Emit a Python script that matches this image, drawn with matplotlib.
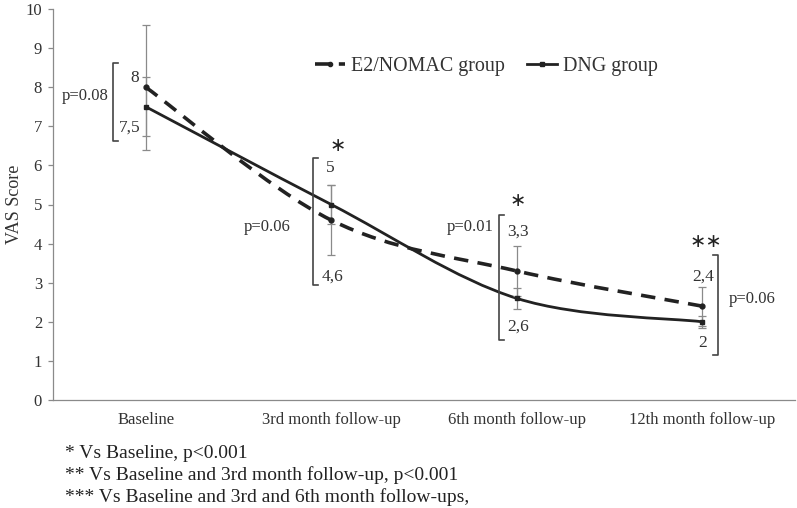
import numpy as np
import matplotlib
matplotlib.use('Agg')
import matplotlib.pyplot as plt
from matplotlib.path import Path
from matplotlib.patches import PathPatch
from matplotlib.lines import Line2D

plt.rcParams['font.family'] = ['Liberation Serif', 'DejaVu Serif']

## data
categories = ['Baseline', '3rd month follow-up', '6th month follow-up', '12th month follow-up']
e2_vals = [8, 4.6, 3.3, 2.4]
e2_err = [1.6, 0.9, 0.65, 0.5]
dng_vals = [7.5, 5, 2.6, 2]
dng_err = [0.75, 0.5, 0.27, 0.15]
e2_labels = ['8', '4,6', '3,3', '2,4']
dng_labels = ['7,5', '5', '2,6', '2']
p_labels = ['p=0.08', 'p=0.06', 'p=0.01', 'p=0.06']
stars = ['', '*', '*', '**']
footnotes = ['* Vs Baseline, p<0.001',
             '** Vs Baseline and 3rd month follow-up, p<0.001',
             '*** Vs Baseline and 3rd and 6th month follow-ups,']

x = np.arange(len(categories))


def smooth_path(xs, ys):
    # excel style smoothed line -> cubic bezier segments
    pts = np.column_stack([xs, ys]).astype(float)
    ext = np.vstack([pts[0], pts, pts[-1]])
    verts = [pts[0]]
    codes = [Path.MOVETO]
    for i in range(len(pts) - 1):
        p0, p1, p2, p3 = ext[i], ext[i + 1], ext[i + 2], ext[i + 3]
        c1 = p1 + (p2 - p0) / 6
        c2 = p2 - (p3 - p1) / 6
        verts += [c1, c2, p2]
        codes += [Path.CURVE4] * 3
    return Path(verts, codes)


fig = plt.figure(figsize=(7.97, 5.08), dpi=100)
ax = fig.add_axes([53 / 797, 1 - 400 / 508, 742 / 797, 391 / 508])

txtc = '#333333'
dash = (0, (4, 2.6))

# error bars
ax.errorbar(x, e2_vals, yerr=e2_err, fmt='none', ecolor='#8a8a8a', elinewidth=0.9, capsize=3, capthick=0.9)
ax.errorbar(x, dng_vals, yerr=dng_err, fmt='none', ecolor='#8a8a8a', elinewidth=0.9, capsize=3, capthick=0.9)

# smoothed lines
ax.add_patch(PathPatch(smooth_path(x, e2_vals), fill=False, edgecolor='#222222', lw=2.6,
                       linestyle=dash, capstyle='butt'))
ax.add_patch(PathPatch(smooth_path(x, dng_vals), fill=False, edgecolor='#222222', lw=2.0))
ax.plot(x, e2_vals, 'o', color='#222222', ms=3.5, ls='none')
ax.plot(x, dng_vals, 's', color='#222222', ms=3.5, ls='none')

# brackets
br = [(-0.177, 6.62, 8.62, -1), (0.902, 2.95, 6.2, -1), (1.904, 1.54, 4.74, -1), (3.085, 1.15, 3.72, 1)]
for bx, y0, y1, side in br:
    w = 0.027 * -side
    ax.plot([bx + w, bx, bx, bx + w], [y0, y0, y1, y1], color='#444444', lw=1.2)

# value labels
e2_pos = [(-0.058, 8.24), (1.009, 3.15), (2.007, 4.30), (3.004, 3.15)]
dng_pos = [(-0.085, 6.96), (0.993, 5.93), (2.007, 1.87), (3.004, 1.46)]
for (px, py), s in zip(e2_pos, e2_labels):
    ax.text(px, py, s, ha='center', va='center', fontsize=12.5, color=txtc)
for (px, py), s in zip(dng_pos, dng_labels):
    ax.text(px, py, s, ha='center', va='center', fontsize=12.5, color=txtc)

# p values
ax.text(-0.2, 7.77, p_labels[0], ha='right', va='center', fontsize=12, color=txtc)
ax.text(0.654, 4.42, p_labels[1], ha='center', va='center', fontsize=12, color=txtc)
ax.text(1.877, 4.42, p_labels[2], ha='right', va='center', fontsize=12, color=txtc)
ax.text(3.144, 2.58, p_labels[3], ha='left', va='center', fontsize=12, color=txtc)

# significance stars
star_pos = [(0, 0), (1.036, 6.52), (2.007, 5.1), (3.02, 4.06)]
for (px, py), s in zip(star_pos, stars):
    if s:
        ax.text(px, py, s.replace('*', '∗'), ha='center', va='center', fontsize=14, color='#222222',
                family=['DejaVu Sans'])

ax.set_xlim(-0.5, 3.5)
ax.set_ylim(0, 10)
ax.set_yticks(range(0, 11))
ax.set_xticks(x)
ax.set_xticklabels(categories, fontsize=12, color=txtc)
ax.tick_params(axis='y', labelsize=12, labelcolor=txtc, color='#8a8a8a', length=3.6, width=0.9, pad=4.3)
ax.tick_params(axis='x', length=0, pad=9)
for s in ['top', 'right']:
    ax.spines[s].set_visible(False)
for s in ['left', 'bottom']:
    ax.spines[s].set_color('#8a8a8a')
    ax.spines[s].set_linewidth(0.9)
ax.set_ylabel('VAS Score', fontsize=13, color=txtc)
ax.yaxis.set_label_coords(-0.040, 0.5)

handles = [Line2D([], [], color='#222222', lw=2.6, ls=dash, marker='o', ms=3),
           Line2D([], [], color='#222222', lw=2.0, marker='s', ms=3)]
ax.legend(handles, ['E2/NOMAC group', 'DNG group'], loc='center', bbox_to_anchor=(0.584, 0.854),
          ncol=2, frameon=False, fontsize=14.4, handlelength=1.5, handletextpad=0.3,
          columnspacing=1.1, labelcolor=txtc)

for i, t in enumerate(footnotes):
    fig.text(65 / 797, 1 - (453 + 22 * i) / 508, t, ha='left', va='center', fontsize=14, color='#222222')

fig.savefig('out.png', dpi=100)
